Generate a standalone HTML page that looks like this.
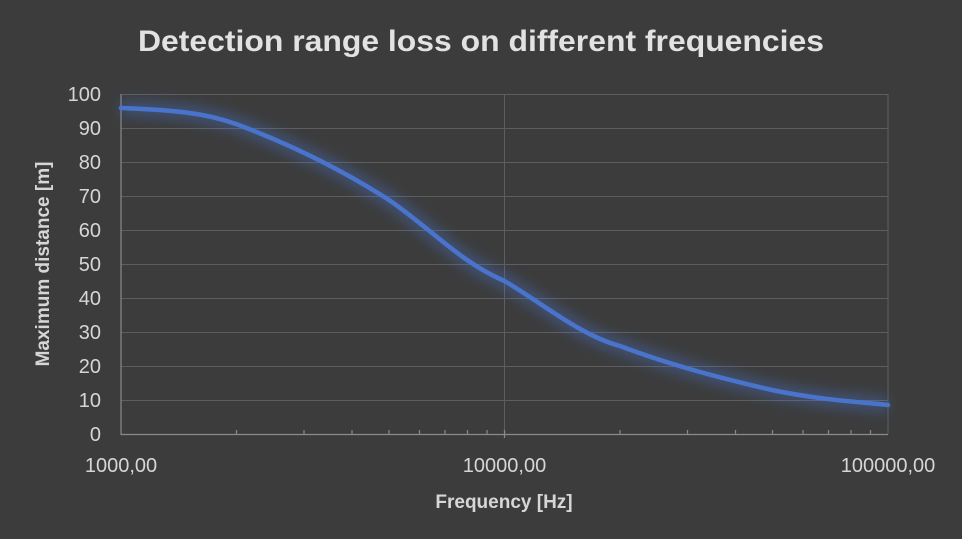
<!DOCTYPE html>
<html><head><meta charset="utf-8"><style>
html,body{margin:0;padding:0;background:#3c3c3c;}
svg{display:block;font-family:"Liberation Sans",sans-serif;}
</style></head><body>
<svg width="962" height="539" viewBox="0 0 962 539" xmlns="http://www.w3.org/2000/svg">
<defs><filter id="g" x="-10%" y="-20%" width="120%" height="140%"><feGaussianBlur stdDeviation="6"/></filter></defs>
<rect width="962" height="539" fill="#3c3c3c"/>
<text x="481" y="51" text-anchor="middle" font-size="30" font-weight="bold" fill="#e2e2e2" textLength="686" lengthAdjust="spacingAndGlyphs">Detection range loss on different frequencies</text>
<g stroke="#5e5e5e" stroke-width="1">
<line x1="121" y1="94.5" x2="888" y2="94.5"/>
<line x1="121" y1="128.5" x2="888" y2="128.5"/>
<line x1="121" y1="162.5" x2="888" y2="162.5"/>
<line x1="121" y1="196.5" x2="888" y2="196.5"/>
<line x1="121" y1="230.5" x2="888" y2="230.5"/>
<line x1="121" y1="264.5" x2="888" y2="264.5"/>
<line x1="121" y1="298.5" x2="888" y2="298.5"/>
<line x1="121" y1="332.5" x2="888" y2="332.5"/>
<line x1="121" y1="366.5" x2="888" y2="366.5"/>
<line x1="121" y1="400.5" x2="888" y2="400.5"/>
<line x1="504.5" y1="94" x2="504.5" y2="434"/>
<line x1="888" y1="94" x2="888" y2="434"/>
</g>
<g stroke="#8a8a8a" stroke-width="1.2">
<line x1="121" y1="94" x2="121" y2="435"/>
<line x1="121" y1="434.5" x2="888" y2="434.5"/>
<line x1="236.5" y1="430" x2="236.5" y2="434"/><line x1="304" y1="430" x2="304" y2="434"/><line x1="352" y1="430" x2="352" y2="434"/><line x1="389" y1="430" x2="389" y2="434"/><line x1="419.5" y1="430" x2="419.5" y2="434"/><line x1="445" y1="430" x2="445" y2="434"/><line x1="467.5" y1="430" x2="467.5" y2="434"/><line x1="487" y1="430" x2="487" y2="434"/><line x1="504.5" y1="430" x2="504.5" y2="438"/>
<line x1="620" y1="430" x2="620" y2="434"/><line x1="687.5" y1="430" x2="687.5" y2="434"/><line x1="735.5" y1="430" x2="735.5" y2="434"/><line x1="772.5" y1="430" x2="772.5" y2="434"/><line x1="803" y1="430" x2="803" y2="434"/><line x1="828.5" y1="430" x2="828.5" y2="434"/><line x1="851" y1="430" x2="851" y2="434"/><line x1="870.5" y1="430" x2="870.5" y2="434"/>
</g>
<g font-size="20" fill="#d6d6d6" text-anchor="end">
<text x="101" y="101">100</text><text x="101" y="135">90</text><text x="101" y="169">80</text><text x="101" y="203">70</text><text x="101" y="237">60</text><text x="101" y="271">50</text><text x="101" y="305">40</text><text x="101" y="339">30</text><text x="101" y="373">20</text><text x="101" y="407">10</text><text x="101" y="441">0</text>
</g>
<g font-size="20" fill="#d6d6d6" text-anchor="middle">
<text x="121" y="472">1000,00</text><text x="504.5" y="472">10000,00</text><text x="888" y="472">100000,00</text>
</g>
<text x="504" y="508" text-anchor="middle" font-size="19" font-weight="bold" fill="#d6d6d6">Frequency [Hz]</text>
<text transform="translate(49,264) rotate(-90)" text-anchor="middle" font-size="19" font-weight="bold" fill="#d6d6d6">Maximum distance [m]</text>
<path d="M121,108 C175,110 205,113 236,124 C300,148 350,175 389,200 C430,228 460,262 504.5,281 C545,305 580,335 620,346 C670,365 720,378 772,390 C820,400 860,402 888,405" fill="none" stroke="#4a78d8" stroke-width="16" opacity="0.35" filter="url(#g)"/>
<path d="M121,108 C175,110 205,113 236,124 C300,148 350,175 389,200 C430,228 460,262 504.5,281 C545,305 580,335 620,346 C670,365 720,378 772,390 C820,400 860,402 888,405" fill="none" stroke="#4a74cc" stroke-width="4.5" stroke-linecap="round"/>
</svg>
</body></html>
